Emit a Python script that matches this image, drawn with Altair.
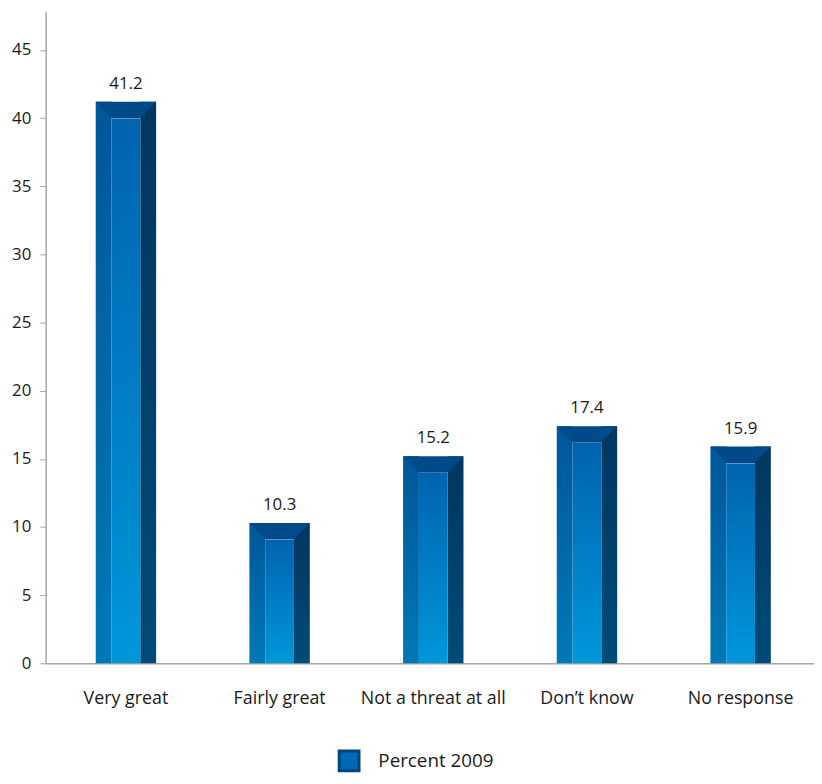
import altair as alt
import pandas as pd

categories = ["Very great", "Fairly great", "Not a threat at all", "Don\u2019t know", "No response"]
values = [41.2, 10.3, 15.2, 17.4, 15.9]
series = ["Percent 2009"] * 5
labels = ["41.2", "10.3", "15.2", "17.4", "15.9"]

df = pd.DataFrame({"cat": categories, "value": values, "series": series, "label": labels})

FONT = "Open Sans"
SHIFT = 3.5

x = alt.X("cat:N", sort=categories, title=None,
          scale=alt.Scale(paddingInner=0, paddingOuter=0),
          axis=alt.Axis(labelAngle=0, ticks=False, domainColor="#a6a6a6", domainWidth=1.5,
                        labelFontSize=18, labelFont=FONT, labelColor="#1a1a1a", labelPadding=27,
                        labelOffset=SHIFT))
y = alt.Y("value:Q", title=None,
          scale=alt.Scale(domain=[0, 47.8], nice=False),
          axis=alt.Axis(values=[0, 5, 10, 15, 20, 25, 30, 35, 40, 45], grid=False,
                        domainColor="#a6a6a6", domainWidth=1.5, tickColor="#a6a6a6", tickSize=6,
                        labelFontSize=17, labelFont=FONT, labelColor="#1a1a1a", labelPadding=9))
y2 = alt.Y2(datum=0)

def grad(top, bottom):
    return alt.Gradient(gradient="linear", x1=0, x2=0, y1=0, y2=1,
                        stops=[alt.GradientStop(color=top, offset=0),
                               alt.GradientStop(color=bottom, offset=1)])

base = alt.Chart(df)

left = base.mark_bar(width=16, xOffset=-22.5 + SHIFT, color=grad("#00569a", "#0079b6")).encode(x=x, y=y, y2=y2)
right = base.mark_bar(width=16, xOffset=22.5 + SHIFT, color=grad("#00365f", "#004b78")).encode(x=x, y=y, y2=y2)
face = base.mark_bar(width=29, xOffset=SHIFT, yOffset=17, y2Offset=0,
                     color=grad("#0063b0", "#0097da")).encode(x=x, y=y, y2=y2)

cap_path = "M -1 0 L 1 0 L 0.468 0.548 L -0.468 0.548 Z"
cap = base.mark_point(shape=cap_path, filled=True, size=61 * 61, color="#004a8a",
                      opacity=1, strokeWidth=0, xOffset=SHIFT).encode(x=x, y=y)

text = base.mark_text(dy=-18, fontSize=17, font=FONT, color="#1a1a1a", xOffset=SHIFT).encode(
    x=x, y=y, text="label:N")

legend_layer = base.mark_square(opacity=0, size=10).encode(
    x=x, y=y,
    color=alt.Color("series:N", title=None,
                    scale=alt.Scale(range=["#0068b4"]),
                    legend=alt.Legend(orient="none", legendX=295, legendY=745,
                                      symbolType="square", symbolSize=400,
                                      symbolOpacity=1, symbolStrokeColor="#00457e",
                                      symbolStrokeWidth=3, labelFontSize=19, labelFont=FONT,
                                      labelColor="#1a1a1a", labelOffset=18)))

chart = alt.layer(left, right, face, cap, text, legend_layer).properties(
    width=776, height=658,
    autosize=alt.AutoSizeParams(type="none"),
    padding={"left": 38, "top": 0, "right": 0, "bottom": 110},
).configure_view(stroke=None)

chart.save("out.html", embed_options={"renderer": "svg", "actions": False})
